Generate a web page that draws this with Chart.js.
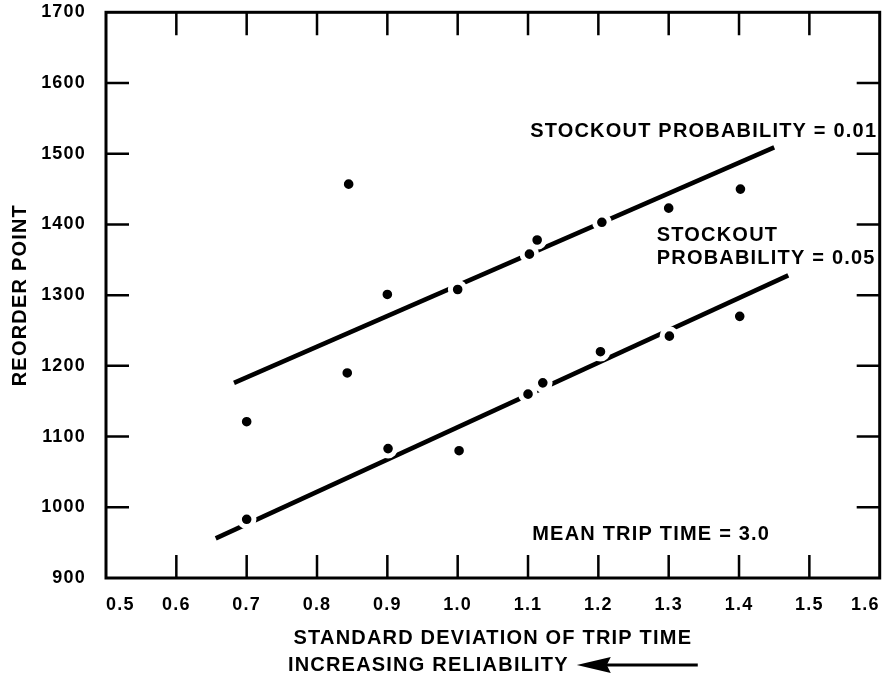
<!DOCTYPE html>
<html>
<head>
<meta charset="utf-8">
<script src="https://cdn.jsdelivr.net/npm/chart.js@4.4.1/dist/chart.umd.min.js"></script>
<style>
  html, body { margin: 0; padding: 0; background: #fff; }
  #chart { display: block; }
</style>
</head>
<body>
<canvas id="chart" width="892" height="676"></canvas>
<script>
// observed reorder points, stockout probability 0.01
const highX = [0.845, 0.9, 1.0, 1.102, 1.113, 1.205, 1.3, 1.402];
const highY = [1457, 1301, 1308, 1358, 1378, 1403, 1423, 1450];
// observed reorder points, stockout probability 0.05
const lowX = [0.7, 0.7, 0.843, 0.901, 1.002, 1.1, 1.121, 1.203, 1.301, 1.401];
const lowY = [1121, 983, 1190, 1083, 1080, 1160, 1176, 1220, 1242, 1270];

// fitted lines (end points)
const highLineX = [0.682, 1.45];
const highLineY = [1176, 1509];
const lowLineX = [0.656, 1.47];
const lowLineY = [956, 1328];

const xTicks = [0.5, 0.6, 0.7, 0.8, 0.9, 1.0, 1.1, 1.2, 1.3, 1.4, 1.5, 1.6];
const yTicks = [900, 1000, 1100, 1200, 1300, 1400, 1500, 1600, 1700];

const notes = [
  { text: 'STOCKOUT PROBABILITY = 0.01', x: 1.103, y: 1531 },
  { text: 'STOCKOUT', x: 1.283, y: 1384 },
  { text: 'PROBABILITY = 0.05', x: 1.283, y: 1352 },
  { text: 'MEAN TRIP TIME = 3.0', x: 1.106, y: 962 }
];

const FONT = "'Liberation Sans', Arial, Helvetica, sans-serif";
const SPACING = '1.2px';

const pts = (xs, ys) => xs.map((x, i) => ({ x: x, y: ys[i] }));

const frame = {
  id: 'frame',
  beforeLayout(chart) { chart.ctx.letterSpacing = SPACING; },
  beforeDraw(chart) { chart.ctx.letterSpacing = SPACING; },
  afterDraw(chart) {
    const { ctx, chartArea: a, scales: { x, y } } = chart;
    ctx.save();
    ctx.strokeStyle = '#000';
    ctx.lineWidth = 2.5;
    ctx.beginPath();
    const len = 23;
    xTicks.slice(1, -1).forEach(v => {
      const px = x.getPixelForValue(v);
      ctx.moveTo(px, a.bottom); ctx.lineTo(px, a.bottom - len);
      ctx.moveTo(px, a.top); ctx.lineTo(px, a.top + len);
    });
    yTicks.slice(1, -1).forEach(v => {
      const py = y.getPixelForValue(v);
      ctx.moveTo(a.left, py); ctx.lineTo(a.left + len, py);
      ctx.moveTo(a.right, py); ctx.lineTo(a.right - len, py);
    });
    ctx.stroke();
    ctx.lineWidth = 3;
    ctx.strokeRect(a.left, a.top, a.right - a.left, a.bottom - a.top);

    // annotations
    ctx.fillStyle = '#000';
    ctx.font = 'bold 20px ' + FONT;
    ctx.letterSpacing = SPACING;
    ctx.textAlign = 'left';
    ctx.textBaseline = 'middle';
    notes.forEach(n => ctx.fillText(n.text, x.getPixelForValue(n.x), y.getPixelForValue(n.y)));

    // second line of the x title with its arrow
    const label = 'INCREASING RELIABILITY';
    const w = ctx.measureText(label).width;
    const arrowLen = 121, gap = 8;
    const cx = (a.left + a.right) / 2;
    const start = cx - (w + gap + arrowLen) / 2;
    const ty = 665;
    ctx.fillText(label, start, ty);
    const tip = start + w + gap;
    ctx.beginPath();
    ctx.moveTo(tip, ty);
    ctx.lineTo(tip + 34, ty - 8);
    ctx.lineTo(tip + 30, ty);
    ctx.lineTo(tip + 34, ty + 8);
    ctx.closePath();
    ctx.fill();
    ctx.lineWidth = 3;
    ctx.beginPath();
    ctx.moveTo(tip + 28, ty);
    ctx.lineTo(tip + arrowLen, ty);
    ctx.stroke();
    ctx.restore();
  }
};

new Chart(document.getElementById('chart'), {
  type: 'scatter',
  data: {
    datasets: [
      {
        label: 'p = 0.01',
        data: pts(highX, highY),
        backgroundColor: '#000',
        borderColor: '#fff',
        borderWidth: 5,
        pointRadius: 7.3,
        order: 0
      },
      {
        label: 'p = 0.05',
        data: pts(lowX, lowY),
        backgroundColor: '#000',
        borderColor: '#fff',
        borderWidth: 5,
        pointRadius: 7.3,
        order: 0
      },
      {
        label: 'fit 0.01',
        data: pts(highLineX, highLineY),
        showLine: true,
        borderColor: '#000',
        borderWidth: 4.5,
        pointRadius: 0,
        order: 1
      },
      {
        label: 'fit 0.05',
        data: pts(lowLineX, lowLineY),
        showLine: true,
        borderColor: '#000',
        borderWidth: 4.5,
        pointRadius: 0,
        order: 1
      }
    ]
  },
  options: {
    responsive: false,
    animation: false,
    layout: { padding: { top: 10, right: 7, left: 0, bottom: 0 } },
    plugins: { legend: { display: false }, tooltip: { enabled: false } },
    scales: {
      x: {
        type: 'linear',
        min: 0.5,
        max: 1.6,
        afterBuildTicks: s => { s.ticks = xTicks.map(v => ({ value: v })); },
        afterFit: s => { s.height = 98; s.paddingLeft = 0; s.paddingRight = 0; },
        grid: { display: false, drawTicks: false },
        border: { display: false },
        ticks: {
          autoSkip: false,
          maxRotation: 0,
          align: 'inner',
          padding: 16,
          color: '#000',
          font: { family: FONT, size: 18, weight: 'bold' },
          callback: v => Number(v).toFixed(1)
        },
        title: {
          display: true,
          text: 'STANDARD DEVIATION OF TRIP TIME',
          color: '#000',
          font: { family: FONT, size: 20, weight: 'bold' },
          padding: { top: 0, bottom: 26 }
        }
      },
      y: {
        min: 900,
        max: 1700,
        afterBuildTicks: s => { s.ticks = yTicks.map(v => ({ value: v })); },
        afterFit: s => { s.width = 106; s.paddingTop = 0; s.paddingBottom = 0; },
        grid: { display: false, drawTicks: false },
        border: { display: false },
        ticks: {
          padding: 20,
          color: '#000',
          font: { family: FONT, size: 18, weight: 'bold' },
          callback: v => String(v)
        },
        title: {
          display: true,
          text: 'REORDER POINT',
          color: '#000',
          font: { family: FONT, size: 20, weight: 'bold' },
          padding: { top: 8, bottom: 0 }
        }
      }
    }
  },
  plugins: [frame]
});
</script>
</body>
</html>
